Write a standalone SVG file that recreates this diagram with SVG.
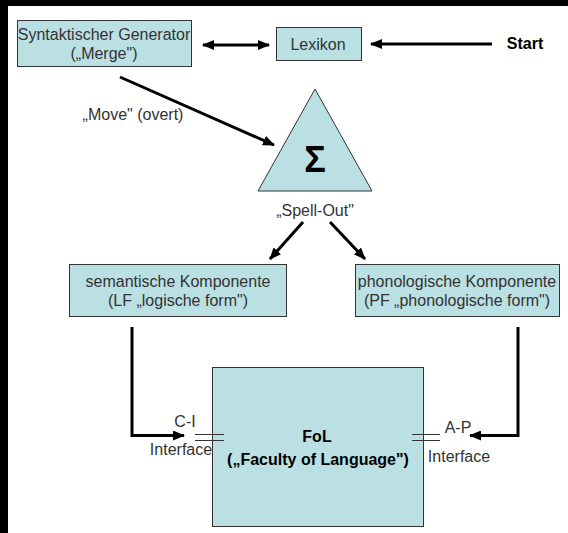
<svg xmlns="http://www.w3.org/2000/svg" width="568" height="533" viewBox="0 0 568 533">
<defs>
<style>
.box{fill:#bbe0e3;stroke:#333;stroke-width:1}
.t{font-family:"Liberation Sans",Arial,sans-serif;font-size:16px;fill:#333;text-anchor:middle}
.b{font-weight:bold;fill:#000}
.c{fill:none;stroke:#000;stroke-width:3}
.eq{stroke:#333;stroke-width:1}
</style>
<marker id="ah" markerUnits="userSpaceOnUse" markerWidth="12" markerHeight="10" refX="11" refY="5" orient="auto-start-reverse">
<path d="M0,0 L12,5 L0,10 z" fill="#000"/>
</marker>
</defs>
<rect width="568" height="533" fill="#fff"/>
<rect x="0" y="0" width="8" height="533" fill="#000"/>
<rect x="0" y="0" width="568" height="6" fill="#000"/>
<g id="connectors">
<line class="c" x1="203" y1="45" x2="269" y2="45" marker-start="url(#ah)" marker-end="url(#ah)"/>
<line class="c" x1="492" y1="44" x2="371" y2="44" marker-end="url(#ah)"/>
<line class="c" x1="120" y1="77" x2="274" y2="145" marker-end="url(#ah)"/>
<line class="c" x1="303" y1="222" x2="270" y2="259" marker-end="url(#ah)"/>
<line class="c" x1="330" y1="222" x2="365" y2="259" marker-end="url(#ah)"/>
<path class="c" d="M132,327 V435.5 H184" marker-end="url(#ah)"/>
<path class="c" d="M518,327 V435.5 H470" marker-end="url(#ah)"/>
</g>
<g id="syntaktischer-generator">
<rect class="box" x="17.5" y="20.5" width="174" height="46"/>
<text class="t" x="104" y="40">Syntaktischer Generator</text>
<text class="t" x="104" y="59">(„Merge")</text>
</g>
<g id="lexikon">
<rect class="box" x="276.5" y="27.5" width="85" height="33"/>
<text class="t" x="318" y="50">Lexikon</text>
</g>
<g id="start">
<text class="t b" x="525" y="49">Start</text>
</g>
<g id="move-label">
<text class="t" x="133" y="120">„Move" (overt)</text>
</g>
<g id="sigma">
<polygon points="315,89 258,191 372,191" fill="#bbe0e3" stroke="#333" stroke-width="1"/>
<text class="t b" x="315" y="172" style="font-size:36px">Σ</text>
<text class="t" x="315" y="216">„Spell-Out"</text>
</g>
<g id="semantische-komponente">
<rect class="box" x="69.5" y="264.5" width="217" height="52"/>
<text class="t" x="178" y="287">semantische Komponente</text>
<text class="t" x="178" y="306">(LF „logische form")</text>
</g>
<g id="phonologische-komponente">
<rect class="box" x="355.5" y="264.5" width="204" height="52"/>
<text class="t" x="457" y="287">phonologische Komponente</text>
<text class="t" x="457" y="306">(PF „phonologische form")</text>
</g>
<g id="fol">
<rect class="box" x="212.5" y="367.5" width="211" height="159"/>
<text class="t b" x="317" y="442">FoL</text>
<text class="t b" x="318" y="465">(„Faculty of Language")</text>
</g>
<g id="ci-interface">
<line class="eq" x1="195" y1="434.5" x2="224" y2="434.5"/>
<line class="eq" x1="195" y1="440.5" x2="224" y2="440.5"/>
<text class="t" x="185" y="427">C-I</text>
<text class="t" x="181" y="455">Interface</text>
</g>
<g id="ap-interface">
<line class="eq" x1="412" y1="434.5" x2="440" y2="434.5"/>
<line class="eq" x1="412" y1="440.5" x2="440" y2="440.5"/>
<text class="t" x="458" y="433">A-P</text>
<text class="t" x="459" y="462">Interface</text>
</g>
</svg>
